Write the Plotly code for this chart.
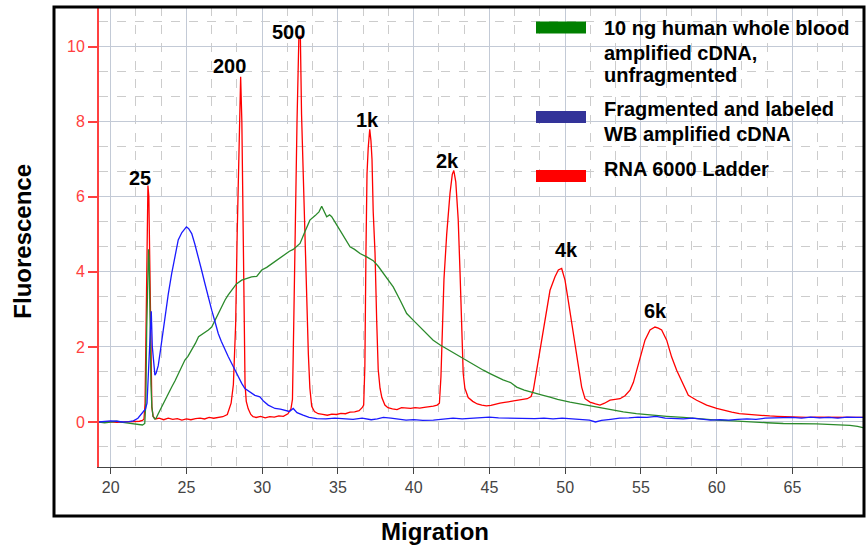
import plotly.graph_objects as go

# ---------------- data ----------------
ladder_x = [19.23, 19.8, 20.4, 21.0, 21.5, 21.9, 22.1, 22.2, 22.27, 22.32, 22.36, 22.4, 22.46, 22.52, 22.58, 22.64, 22.72, 22.8, 22.95,
            23.2, 23.5, 23.8, 24.1, 24.4, 24.7, 25.0, 25.3, 25.6, 25.9, 26.2, 26.5, 26.8, 27.1, 27.4, 27.7, 27.85,
            27.95, 28.1, 28.25, 28.35, 28.42, 28.5, 28.58, 28.66, 28.73, 28.8, 28.87, 28.95, 29.08, 29.25, 29.4,
            29.6, 29.9, 30.2, 30.5, 30.8, 31.1, 31.4, 31.7, 31.9,
            32.0, 32.08, 32.17, 32.3, 32.42, 32.52, 32.6, 32.72, 32.83, 32.95, 33.05, 33.15, 33.27, 33.45, 33.7,
            34.0, 34.3, 34.6, 34.9, 35.2, 35.5, 35.8, 36.1, 36.4, 36.6,
            36.7, 36.78, 36.85, 36.92, 37.0, 37.1, 37.18, 37.25, 37.33, 37.45, 37.56, 37.66, 37.78, 37.9, 38.1, 38.3,
            38.6, 38.9, 39.2, 39.5, 39.8, 40.1, 40.4, 40.7, 41.0, 41.3, 41.55,
            41.7, 41.8, 41.9, 42.0, 42.18, 42.4, 42.55, 42.65, 42.78, 42.94, 43.06, 43.17, 43.27, 43.38, 43.6, 43.9,
            44.2, 44.5, 44.8, 45.1, 45.4, 45.7, 46.0, 46.3, 46.6, 46.9, 47.2, 47.5, 47.75,
            47.9, 48.12, 48.34, 48.55, 48.78, 49.0, 49.33, 49.55, 49.77, 49.99, 50.2, 50.43, 50.65, 50.87, 51.09, 51.31, 51.64,
            52.0, 52.3, 52.6, 52.96, 53.3, 53.62, 53.95, 54.28, 54.5, 54.72, 54.94, 55.27, 55.6, 55.93, 56.15, 56.37,
            56.7, 57.03, 57.36, 57.8, 58.13, 58.68, 59.34, 60.0, 60.5, 61.0, 61.5, 62.0, 62.5, 63.0, 63.5, 64.0,
            64.5, 65.0, 65.5, 66.0, 66.5, 67.0, 67.5, 68.0, 68.5, 69.0, 69.66]
ladder_y = [0.0, 0.01, -0.01, 0.0, 0.01, 0.02, 0.04, 0.08, 0.5, 2.2, 4.0, 5.6, 6.3, 6.0, 4.2, 1.5, 0.4, 0.15, 0.08,
            0.1, 0.06, 0.1, 0.07, 0.09, 0.05, 0.08, 0.06, 0.09, 0.1, 0.08, 0.12, 0.1, 0.13, 0.14, 0.2, 0.35,
            0.5, 1.0, 2.6, 5.0, 6.2, 7.8, 9.2, 8.0, 5.5, 2.8, 1.0, 0.55, 0.35, 0.2, 0.14,
            0.12, 0.15, 0.11, 0.14, 0.13, 0.16, 0.15, 0.22, 0.35,
            0.6, 2.5, 5.4, 8.0, 10.2, 10.3, 8.2, 6.3, 4.5, 2.8, 1.8, 0.9, 0.42, 0.28, 0.22,
            0.2, 0.18, 0.21, 0.2, 0.23, 0.22, 0.26, 0.27, 0.3, 0.38,
            0.45, 1.5, 4.5, 6.6, 7.3, 7.8, 7.5, 7.0, 5.6, 4.5, 2.7, 1.4, 0.9, 0.65, 0.45, 0.38,
            0.35, 0.33, 0.38, 0.37, 0.36, 0.38, 0.37, 0.39, 0.4, 0.42, 0.45,
            0.5, 1.2, 2.8, 3.8, 5.0, 6.1, 6.6, 6.7, 6.4, 5.4, 4.0, 2.3, 1.3, 0.9, 0.65, 0.55,
            0.48, 0.45, 0.43, 0.44, 0.48, 0.5, 0.52, 0.55, 0.56, 0.58, 0.6, 0.62, 0.68,
            0.85, 1.38, 1.91, 2.45, 2.98, 3.51, 3.87, 4.05, 4.09, 3.78, 3.25, 2.62, 2.09, 1.47, 0.93, 0.62, 0.53,
            0.48, 0.45, 0.5, 0.58, 0.6, 0.62, 0.7, 0.85, 1.05, 1.38, 1.73, 2.18, 2.45, 2.53, 2.5, 2.45,
            2.18, 1.73, 1.38, 1.02, 0.71, 0.58, 0.45, 0.36, 0.3, 0.26, 0.22, 0.2, 0.18, 0.17, 0.16, 0.15,
            0.14, 0.14, 0.13, 0.12, 0.13, 0.13, 0.12, 0.12, 0.11, 0.11, 0.12]

blood_x = [19.23, 19.6, 20.0, 20.4, 20.8, 21.2, 21.6, 21.9, 22.1, 22.25, 22.32, 22.38, 22.44, 22.5, 22.55, 22.6, 22.66, 22.72, 22.8, 22.9,
           23.0, 23.14, 23.3, 23.45, 23.58, 23.8, 24.03, 24.25, 24.46, 24.7, 24.9, 25.1, 25.35, 25.6, 25.8, 26.0, 26.22, 26.45,
           26.67, 26.9, 27.1, 27.3, 27.55, 27.75, 27.99, 28.3, 28.65, 29.0, 29.3, 29.64, 29.97, 30.3, 30.63, 31.0, 31.4, 31.8,
           32.05, 32.3, 32.5, 32.8, 33.15, 33.5, 33.75, 33.93, 34.1, 34.26, 34.45, 34.59, 34.85, 35.14, 35.45, 35.8, 36.1,
           36.46, 36.9, 37.33, 37.66, 37.99, 38.3, 38.65, 39.1, 39.54, 40.0, 40.42, 40.85, 41.29, 41.75, 42.18, 42.6, 43.06,
           43.6, 44.16, 44.6, 45.04, 45.5, 45.9, 46.4, 46.8, 47.3, 47.7, 48.1, 48.55, 49.0, 49.5, 50.32, 51.2, 52.08, 52.9,
           53.84, 54.7, 55.6, 56.7, 57.8, 58.9, 60.0, 61.1, 62.2, 63.3, 64.4, 65.5, 66.6, 67.7, 68.8, 69.3, 69.66]
blood_y = [0.0, -0.02, 0.0, 0.02, -0.01, -0.03, -0.06, -0.08, -0.08, -0.04, 0.5, 2.5, 4.0, 4.6, 4.2, 2.2, 1.0, 0.4, 0.15, 0.08,
           0.1, 0.22, 0.35, 0.5, 0.58, 0.78, 0.93, 1.1, 1.29, 1.48, 1.65, 1.75, 1.91, 2.1, 2.27, 2.32, 2.38, 2.45,
           2.53, 2.72, 2.89, 3.05, 3.25, 3.38, 3.51, 3.68, 3.78, 3.82, 3.87, 3.88, 4.05, 4.12, 4.22, 4.33, 4.45, 4.55,
           4.6, 4.7, 4.76, 5.05, 5.38, 5.5, 5.6, 5.75, 5.6, 5.47, 5.52, 5.47, 5.3, 5.11, 4.9, 4.67, 4.6,
           4.49, 4.4, 4.3, 4.15, 3.96, 3.8, 3.6, 3.25, 2.89, 2.7, 2.53, 2.35, 2.18, 2.05, 1.95, 1.85, 1.73,
           1.6, 1.47, 1.38, 1.29, 1.2, 1.12, 1.05, 0.93, 0.85, 0.8, 0.75, 0.71, 0.66, 0.6, 0.53, 0.46, 0.4, 0.33,
           0.27, 0.22, 0.18, 0.15, 0.12, 0.08, 0.05, 0.03, 0.0, -0.02, -0.04, -0.04, -0.05, -0.07, -0.09, -0.12, -0.15]

frag_x = [19.23, 19.6, 20.0, 20.4, 20.8, 21.2, 21.5, 21.8, 22.0, 22.15, 22.3, 22.4, 22.5, 22.6, 22.68, 22.75, 22.85, 22.92,
          23.0, 23.14, 23.3, 23.45, 23.58, 23.8, 24.03, 24.25, 24.46, 24.7, 24.9, 25.0, 25.15, 25.35, 25.55, 25.8, 26.0,
          26.22, 26.45, 26.67, 26.9, 27.1, 27.3, 27.55, 27.75, 27.99, 28.2, 28.42, 28.65, 28.86, 29.2, 29.52, 29.85,
          30.1, 30.4, 30.85, 31.2, 31.5, 31.8, 32.05, 32.3, 32.7, 33.1, 33.6, 34.2, 34.8, 35.4, 36.0, 36.6, 37.2, 37.6,
          38.0, 38.5, 39.0, 39.5, 40.0, 40.6, 41.3, 42.0, 42.6, 43.2, 43.8, 44.4, 45.0, 45.6, 46.2, 46.8, 47.4, 48.0,
          48.6, 49.2, 49.8, 50.4, 51.0, 51.6, 52.0, 52.4, 53.0, 53.6, 54.2, 54.8, 55.4, 56.0, 56.6, 57.2, 57.8, 58.4,
          59.0, 59.6, 60.2, 60.8, 61.4, 62.0, 62.6, 63.2, 63.8, 64.4, 65.0, 65.6, 66.2, 66.8, 67.4, 68.0, 68.6, 69.2, 69.66]
frag_y = [0.0, 0.01, 0.03, 0.02, 0.0, 0.01, 0.03, 0.1, 0.2, 0.3, 0.35, 0.5, 1.5, 2.5, 2.95, 2.0, 1.4, 1.25,
          1.3, 1.5, 1.95, 2.4, 2.71, 3.4, 3.96, 4.45, 4.85, 5.05, 5.15, 5.2, 5.15, 5.02, 4.75, 4.4, 4.05,
          3.69, 3.3, 2.98, 2.65, 2.36, 2.15, 1.91, 1.75, 1.56, 1.38, 1.2, 1.03, 0.89, 0.8, 0.71, 0.67,
          0.55, 0.45, 0.36, 0.34, 0.3, 0.28, 0.36, 0.25, 0.18, 0.12, 0.09, 0.08, 0.1, 0.08, 0.07, 0.1, 0.06, 0.08,
          0.12, 0.1, 0.07, 0.05, 0.06, 0.04, 0.05, 0.08, 0.1, 0.08, 0.1, 0.12, 0.13, 0.11, 0.1, 0.11, 0.1, 0.09,
          0.1, 0.08, 0.1, 0.08, 0.07, 0.05, 0.0, 0.04, 0.07, 0.1, 0.11, 0.13, 0.12, 0.15, 0.1, 0.09, 0.08, 0.1,
          0.07, 0.05, 0.06, 0.05, 0.07, 0.08, 0.07, 0.1, 0.11, 0.12, 0.12, 0.1, 0.13, 0.11, 0.12, 0.1, 0.13, 0.12, 0.12]

series_names = ["10 ng human whole blood<br>amplified cDNA,<br>unfragmented",
                "Fragmented and labeled<br>WB amplified cDNA",
                "RNA 6000 Ladder"]
legend_lines = [["10 ng human whole blood", "amplified cDNA,", "unfragmented"],
                ["Fragmented and labeled", "WB amplified cDNA"],
                ["RNA 6000 Ladder"]]

peak_labels = ["25", "200", "500", "1k", "2k", "4k", "6k"]
peak_label_x = [21.93, 27.84, 31.77, 36.95, 42.26, 50.1, 55.98]
peak_label_y = [6.5, 9.49, 10.39, 8.05, 6.95, 4.58, 2.97]

x_range = [19.23, 69.66]
y_range = [-1.2, 11.06]

# ---------------- layout helpers (pixel -> paper) ----------------
W, H = 868, 546
L, R, T, B = 99, 863, 7, 467


def px(p):
    return (p - L) / (R - L)


def py(p):
    return (B - p) / (B - T)


fig = go.Figure()
fig.add_trace(go.Scatter(x=ladder_x, y=ladder_y, mode="lines", name=series_names[2],
                         line=dict(color="#ff0000", width=1.3), showlegend=False))
fig.add_trace(go.Scatter(x=blood_x, y=blood_y, mode="lines", name=series_names[0],
                         line=dict(color="#2b8a2b", width=1.3), showlegend=False))
fig.add_trace(go.Scatter(x=frag_x, y=frag_y, mode="lines", name=series_names[1],
                         line=dict(color="#1a1aff", width=1.3), showlegend=False))

annotations = []
for t, xx, yy in zip(peak_labels, peak_label_x, peak_label_y):
    annotations.append(dict(x=xx, y=yy, xref="x", yref="y", text="<b>%s</b>" % t, showarrow=False,
                            xanchor="center", yanchor="middle",
                            font=dict(family="Liberation Sans, Arial", size=20, color="#000")))

# custom legend
bar_colors = ["#008000", "#333399", "#ff0000"]
bar_centers = [27.5, 117, 176]
line_centers = [[28, 52.5, 75.5], [109.2, 134.2], [169.2]]
shapes = []
for col, bc in zip(bar_colors, bar_centers):
    shapes.append(dict(type="rect", xref="paper", yref="paper", x0=px(536), x1=px(586),
                       y0=py(bc + 6), y1=py(bc - 6), fillcolor=col, line=dict(width=0)))
for lines, centers in zip(legend_lines, line_centers):
    for txt, cy in zip(lines, centers):
        annotations.append(dict(x=px(602), y=py(cy), xref="paper", yref="paper", text="<b>%s</b>" % txt,
                                showarrow=False, xanchor="left", yanchor="middle",
                                font=dict(family="Liberation Sans, Arial", size=20, color="#000")))

# axis titles
annotations.append(dict(x=px(23), y=py(241.7), xref="paper", yref="paper", text="<b>Fluorescence</b>",
                        textangle=-90, showarrow=False, xanchor="center", yanchor="middle",
                        font=dict(family="Liberation Sans, Arial", size=24, color="#000")))
annotations.append(dict(x=px(435), y=py(531), xref="paper", yref="paper", text="<b>Migration</b>",
                        showarrow=False, xanchor="center", yanchor="middle",
                        font=dict(family="Liberation Sans, Arial", size=24, color="#000")))

# outer black frame
shapes.append(dict(type="rect", xref="paper", yref="paper", x0=px(54), x1=px(864), y0=py(516), y1=py(7),
                   line=dict(color="#000", width=3), fillcolor="rgba(0,0,0,0)", layer="above"))

fig.update_layout(
    width=W, height=H,
    margin=dict(l=L, r=W - R, t=T, b=H - B),
    paper_bgcolor="white", plot_bgcolor="white",
    showlegend=False,
    annotations=annotations, shapes=shapes,
    xaxis=dict(range=x_range, tickmode="linear", tick0=20, dtick=5,
               ticks="outside", ticklen=6, tickcolor="#444", tickwidth=1,
               showline=True, linecolor="#444", linewidth=1,
               showgrid=True, gridcolor="#c3cad6", gridwidth=1, zeroline=False,
               minor=dict(dtick=5 / 3, showgrid=True, gridcolor="#cccccc", griddash="dash", ticks=""),
               tickfont=dict(family="Liberation Sans, Arial", size=16, color="#444")),
    yaxis=dict(range=y_range, tickmode="linear", tick0=0, dtick=2,
               ticks="outside", ticklen=9, tickcolor="#ff4040", tickwidth=1.5,
               showline=True, linecolor="#ff4040", linewidth=2,
               showgrid=True, gridcolor="#c3cad6", gridwidth=1, zeroline=False,
               minor=dict(dtick=2 / 3, showgrid=True, gridcolor="#cccccc", griddash="dash", ticks=""),
               tickfont=dict(family="Liberation Sans, Arial", size=16, color="#ff4040")),
)

fig.write_html("out.html", config={"displayModeBar": False},
               post_script="document.body.style.margin='0';document.body.style.padding='0';")
